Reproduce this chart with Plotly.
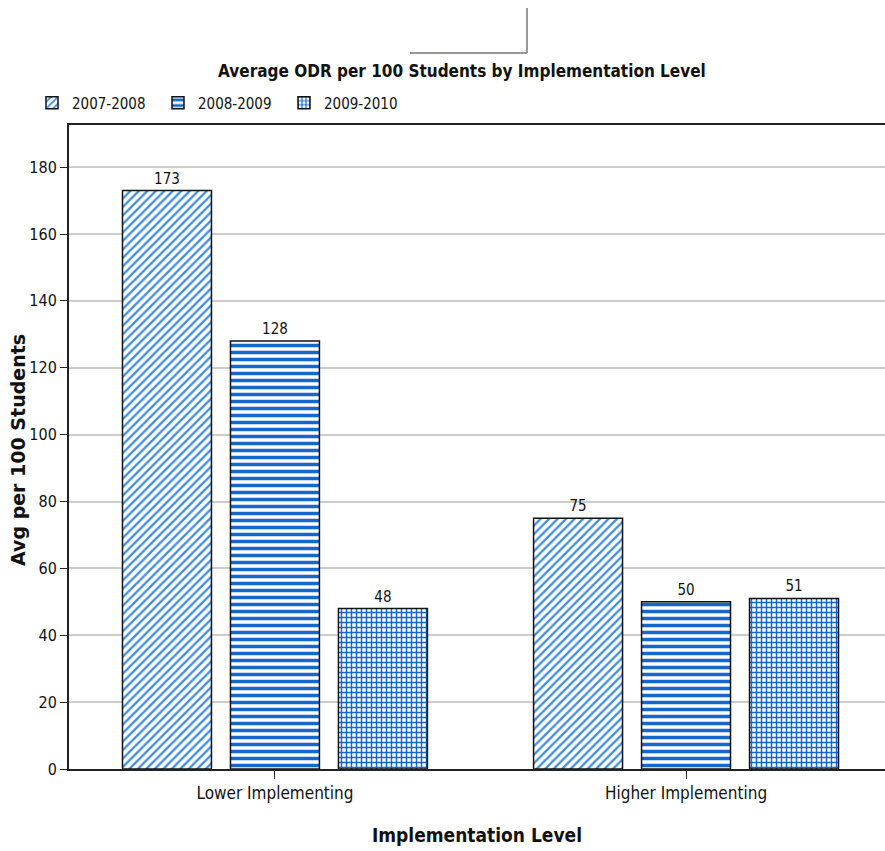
import plotly.graph_objects as go

# Data
categories = ["Lower Implementing", "Higher Implementing"]
series_names = ["2007-2008", "2008-2009", "2009-2010"]
values_0708 = [173, 75]
values_0809 = [128, 50]
values_0910 = [48, 51]
y_ticks = [0, 20, 40, 60, 80, 100, 120, 140, 160, 180]

NARROW = "DejaVu Sans Condensed, Liberation Sans Narrow, Arial Narrow, sans-serif"
BLUE = "#1567d0"

patterns = [
    dict(shape="/", fgcolor="#3f8de2", bgcolor="white", size=6, solidity=0.38, fillmode="replace"),
    dict(shape="-", fgcolor=BLUE, bgcolor="white", size=7, solidity=0.5, fillmode="replace"),
    dict(shape="+", fgcolor=BLUE, bgcolor="white", size=5, solidity=0.5, fillmode="replace"),
]

fig = go.Figure()
for name, vals, pat in zip(series_names, [values_0708, values_0809, values_0910], patterns):
    fig.add_trace(go.Bar(
        name=name, x=categories, y=vals,
        text=[str(v) for v in vals], textposition="outside",
        textfont=dict(family=NARROW, size=15, color="#111"),
        cliponaxis=False,
        marker=dict(color="white", pattern=pat, line=dict(color="#111", width=1.5)),
    ))

PLOT_L, PLOT_T, PLOT_B = 69, 125, 769
PW, PH = 885 - PLOT_L, PLOT_B - PLOT_T

fig.update_layout(
    width=885, height=851,
    margin=dict(l=PLOT_L, r=0, t=PLOT_T, b=851 - PLOT_B),
    paper_bgcolor="white", plot_bgcolor="white",
    barmode="group", bargap=0.212, bargroupgap=0.176,
    font=dict(family=NARROW, size=15, color="#111"),
    title=dict(text="<b>Average ODR per 100 Students by Implementation Level</b>",
               x=0.522, xanchor="center", y=1 - 71 / 851, yanchor="middle",
               font=dict(family=NARROW, size=17, color="#111")),
    legend=dict(orientation="h", x=(32 - PLOT_L) / PW, xanchor="left",
                y=1 + (PLOT_T - 103) / PH, yanchor="middle",
                font=dict(family=NARROW, size=15, color="#111"),
                itemwidth=30, entrywidth=81, entrywidthmode="pixels",
                bgcolor="rgba(0,0,0,0)"),
    showlegend=True,
    xaxis=dict(range=[-0.501, 1.484], showline=True, linecolor="#222", linewidth=2,
               mirror=True, ticks="outside", ticklen=8, tickcolor="#222",
               tickfont=dict(family=NARROW, size=17, color="#111"),
               title=dict(text="<b>Implementation Level</b>", standoff=26,
                          font=dict(family=NARROW, size=19, color="#111"))),
    yaxis=dict(range=[0, 192.6], tickvals=y_ticks, showline=True, linecolor="#222",
               linewidth=2, ticks="outside", ticklen=7, tickcolor="#222",
               showgrid=True, gridcolor="#cccccc", gridwidth=2, zeroline=False,
               tickfont=dict(family=NARROW, size=16, color="#111")),
    annotations=[
        dict(text="<b>Avg per 100 Students</b>", textangle=-90, showarrow=False,
             xref="paper", yref="paper", x=(18 - PLOT_L) / PW, y=(PLOT_B - 450) / PH,
             xanchor="center", yanchor="middle",
             font=dict(family="DejaVu Sans, Liberation Sans, sans-serif", size=19, color="#111")),
    ],
    shapes=[
        dict(type="line", xref="paper", yref="paper", x0=(527 - PLOT_L) / PW, x1=(527 - PLOT_L) / PW,
             y0=(PLOT_B - 8) / PH, y1=(PLOT_B - 53) / PH,
             line=dict(color="#999999", width=2)),
        dict(type="line", xref="paper", yref="paper", x0=(410 - PLOT_L) / PW, x1=(527 - PLOT_L) / PW,
             y0=(PLOT_B - 53) / PH, y1=(PLOT_B - 53) / PH,
             line=dict(color="#999999", width=2)),
    ],
)

fig.write_html("out.html")
